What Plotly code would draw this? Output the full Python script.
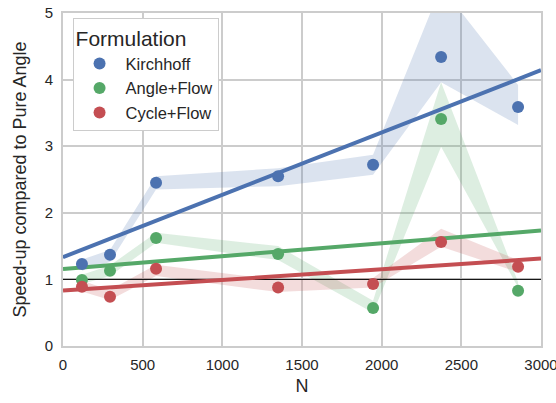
import numpy as np
import plotly.graph_objects as go

N = [119, 295, 584, 1350, 1946, 2373, 2856]
series = ["Kirchhoff", "Angle+Flow", "Cycle+Flow"]
colors = {"Kirchhoff": "#4C72B0", "Angle+Flow": "#55A868", "Cycle+Flow": "#C44E52"}
bands = {"Kirchhoff": "rgba(76,114,176,0.2)", "Angle+Flow": "rgba(85,168,104,0.2)",
         "Cycle+Flow": "rgba(196,78,82,0.2)"}

kirchhoff = [1.23, 1.37, 2.45, 2.55, 2.72, 4.34, 3.59]
kirchhoff_lo = [1.13, 1.26, 2.35, 2.40, 2.57, 3.96, 3.32]
kirchhoff_hi = [1.30, 1.44, 2.55, 2.67, 2.87, 5.40, 3.92]

angle_flow = [0.99, 1.13, 1.62, 1.38, 0.57, 3.41, 0.83]
angle_flow_lo = [0.93, 1.05, 1.55, 1.29, 0.50, 2.99, 0.88]
angle_flow_hi = [1.07, 1.21, 1.70, 1.50, 0.68, 3.96, 0.96]

cycle_flow = [0.89, 0.74, 1.16, 0.88, 0.93, 1.56, 1.19]
cycle_flow_lo = [0.82, 0.69, 1.05, 0.81, 0.88, 1.49, 1.11]
cycle_flow_hi = [0.98, 0.84, 1.22, 0.99, 1.02, 1.76, 1.29]

data = {
    "Kirchhoff": (kirchhoff, kirchhoff_lo, kirchhoff_hi),
    "Angle+Flow": (angle_flow, angle_flow_lo, angle_flow_hi),
    "Cycle+Flow": (cycle_flow, cycle_flow_lo, cycle_flow_hi),
}

x_ticks = [0, 500, 1000, 1500, 2000, 2500, 3000]
y_ticks = [0, 1, 2, 3, 4, 5]

fig = go.Figure()

# confidence bands
for s in series:
    y, lo, hi = data[s]
    fig.add_trace(go.Scatter(x=N + N[::-1], y=hi + lo[::-1], fill="toself",
                             fillcolor=bands[s], line=dict(width=0), mode="lines",
                             showlegend=False, hoverinfo="skip"))

# reference line at 1
fig.add_trace(go.Scatter(x=[0, 3000], y=[1, 1], mode="lines",
                         line=dict(color="black", width=1), showlegend=False))

# regression lines
xf = np.array([0, 3000])
for s in series:
    y = data[s][0]
    b, a = np.polyfit(N, y, 1)
    fig.add_trace(go.Scatter(x=xf, y=a + b * xf, mode="lines",
                             line=dict(color=colors[s], width=4), showlegend=False))

# points
for s in series:
    y = data[s][0]
    fig.add_trace(go.Scatter(x=N, y=y, mode="markers", name=s,
                             marker=dict(color=colors[s], size=12)))

fig.update_layout(
    width=556, height=403,
    margin=dict(l=63, r=15, t=13, b=57),
    paper_bgcolor="white", plot_bgcolor="white",
    font=dict(family="Liberation Sans, Arial, sans-serif", size=15, color="#262626"),
    legend=dict(
        title=dict(text="Formulation", font=dict(size=21)),
        x=0.02, y=0.985, xanchor="left", yanchor="top",
        bgcolor="white", bordercolor="#cccccc", borderwidth=1,
        font=dict(size=16.5), itemsizing="constant", itemwidth=42,
    ),
    xaxis=dict(range=[0, 3000], tickvals=x_ticks, showgrid=True, gridcolor="#cccccc",
               gridwidth=1.5, zeroline=False, showline=True, linecolor="#cccccc",
               linewidth=2, mirror=True, ticks="", automargin=False,
               ticklabeloverflow="allow", ticklabelstandoff=4,
               title=dict(text="N", font=dict(size=18), standoff=7),
               tickfont=dict(size=15)),
    yaxis=dict(range=[0, 5], tickvals=y_ticks, showgrid=True, gridcolor="#cccccc",
               gridwidth=1.5, zeroline=False, showline=True, linecolor="#cccccc",
               linewidth=2, mirror=True, ticks="", automargin=False,
               ticklabelstandoff=5,
               title=dict(text="Speed-up compared to Pure Angle", font=dict(size=18), standoff=13),
               tickfont=dict(size=15)),
)

fig.write_html("out.html", config={"displayModeBar": False},
               post_script="document.body.style.margin='0';")
